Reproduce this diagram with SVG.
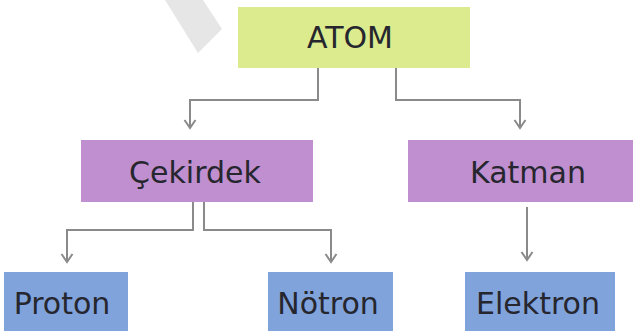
<svg xmlns="http://www.w3.org/2000/svg" width="638" height="331" viewBox="0 0 638 331">
<defs>
<style>
.t{font-family:"DejaVu Sans","Liberation Sans",sans-serif;font-size:30px;fill:#26262e;text-anchor:middle}
.g{fill:#dbeb8d}
.p{fill:#c08fcf}
.b{fill:#80a3dc}
.c{fill:none;stroke:#8a8a8a;stroke-width:2}
</style>
<marker id="ah" markerWidth="14" markerHeight="14" refX="12" refY="7" orient="auto" markerUnits="userSpaceOnUse" viewBox="0 0 14 14">
<polyline points="4,1.5 12,7 4,12.5" fill="none" stroke="#8a8a8a" stroke-width="2"/>
</marker>
</defs>
<rect width="638" height="331" fill="#ffffff"/>
<polygon points="165,0 203,0 222,29 198,53" fill="#e6e6e6"/>
<g id="connectors">
<polyline class="c" points="318,68 318,100 190,100 190,128" marker-end="url(#ah)"/>
<polyline class="c" points="396,68 396,100 520,100 520,128" marker-end="url(#ah)"/>
<polyline class="c" points="193,202 193,230 67,230 67,262" marker-end="url(#ah)"/>
<polyline class="c" points="204,202 204,230 331,230 331,262" marker-end="url(#ah)"/>
<polyline class="c" points="527,207 527,260" marker-end="url(#ah)"/>
</g>
<g id="atom"><rect class="g" x="238" y="7" width="232" height="61"/><text class="t" x="350" y="48">ATOM</text></g>
<g id="cekirdek"><rect class="p" x="81" y="140" width="232" height="62"/><text class="t" x="195" y="183">Çekirdek</text></g>
<g id="katman"><rect class="p" x="408" y="140" width="225" height="62"/><text class="t" x="528" y="183">Katman</text></g>
<g id="proton"><rect class="b" x="4" y="272" width="124" height="59"/><text class="t" x="62" y="314">Proton</text></g>
<g id="notron"><rect class="b" x="268" y="272" width="125" height="59"/><text class="t" x="328" y="314">Nötron</text></g>
<g id="elektron"><rect class="b" x="465" y="272" width="150" height="59"/><text class="t" x="538" y="314">Elektron</text></g>
</svg>
